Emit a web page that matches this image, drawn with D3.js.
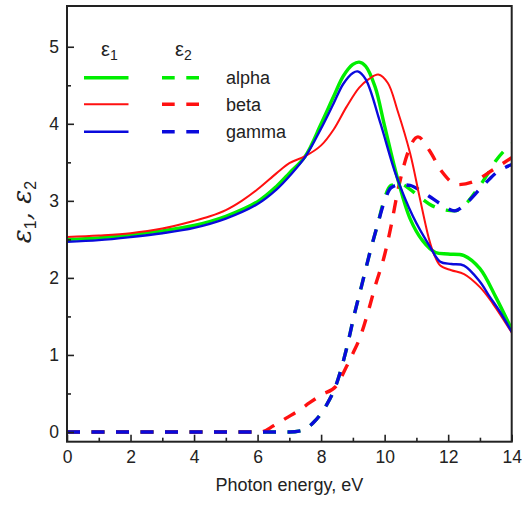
<!DOCTYPE html>
<html><head><meta charset="utf-8">
<script src="https://cdn.jsdelivr.net/npm/d3@7"></script>
<style>body{margin:0;background:#fff}svg{display:block}</style>
</head><body><svg id="c" width="522" height="510"></svg>
<script>
// ---- data ----
const seriesNames = ["alpha", "beta", "gamma"];
const seriesColors = ["#00ee00", "#ff1010", "#0a0adc"];

const e1X_alpha = [0,1,2,3,4,5,6,6.6,7,7.5,8,8.4,8.7,9.0,9.2,9.4,9.7,10.0,10.4,10.8,11.2,11.6,12.0,12.5,13.0,13.5,14];
const e1Y_alpha = [2.50,2.52,2.56,2.61,2.68,2.80,2.99,3.19,3.36,3.58,4.00,4.36,4.62,4.77,4.80,4.75,4.48,3.97,3.30,2.77,2.48,2.33,2.31,2.29,2.12,1.75,1.33];

const e1X_beta = [0,1,2,3,4,4.5,5,5.5,6,6.6,7,7.5,8,8.4,8.8,9.2,9.5,9.8,10.1,10.4,10.8,11.1,11.4,11.55,11.75,12.1,12.5,13.0,13.4,14];
const e1Y_beta = [2.53,2.55,2.58,2.64,2.74,2.80,2.88,3.00,3.15,3.36,3.49,3.58,3.72,3.93,4.22,4.47,4.58,4.64,4.53,4.18,3.62,3.05,2.50,2.31,2.16,2.10,2.05,1.88,1.67,1.29];

const e1X_gamma = [0,1,2,3,4,5,6,6.6,7,7.5,8,8.4,8.7,9.0,9.15,9.4,9.85,10.37,10.89,11.42,11.75,12.1,12.5,13.0,13.3,13.6,14];
const e1Y_gamma = [2.47,2.49,2.53,2.58,2.65,2.77,2.96,3.15,3.32,3.57,3.94,4.27,4.52,4.66,4.68,4.58,4.03,3.32,2.80,2.41,2.21,2.18,2.16,1.95,1.76,1.58,1.30];

const e2X_alpha = [0,7.0,7.4,7.75,8.17,8.48,8.8,9.06,9.27,9.53,9.79,10.0,10.2,10.5,10.8,11.1,11.4,11.8,12.2,12.6,12.9,13.2,13.5,14];
const e2Y_alpha = [0,0,0.02,0.12,0.35,0.62,1.08,1.55,1.89,2.32,2.71,3.04,3.20,3.22,3.15,3.05,2.96,2.89,2.87,2.98,3.14,3.32,3.52,3.74];

const e2X_beta = [0,6.1,6.5,6.9,7.3,7.64,8.0,8.48,8.8,9.0,9.2,9.5,9.7,10.0,10.2,10.4,10.6,10.8,11.05,11.4,11.8,12.3,12.8,13.4,14];
const e2Y_beta = [0,0,0.08,0.18,0.28,0.38,0.48,0.60,0.85,1.02,1.20,1.59,1.89,2.30,2.67,3.10,3.45,3.70,3.83,3.66,3.38,3.21,3.25,3.40,3.56];

const e2X_gamma = [0,7.0,7.4,7.75,8.17,8.48,8.8,9.06,9.27,9.53,9.79,10.0,10.2,10.5,10.8,11.1,11.4,11.8,12.2,12.6,12.9,13.2,13.5,14];
const e2Y_gamma = [0,0,0.02,0.12,0.35,0.62,1.08,1.55,1.89,2.32,2.71,3.00,3.17,3.21,3.20,3.14,3.06,2.95,2.87,2.98,3.11,3.24,3.36,3.47];

const xTicks = [0,2,4,6,8,10,12,14];
const xMinorTicks = [1,3,5,7,9,11,13];
const yTicks = [0,1,2,3,4,5];
const yMinorTicks = [0.5,1.5,2.5,3.5,4.5];

// ---- chart ----
const svg = d3.select("#c");
const L = 67, R = 511.7, T = 6, B = 441.7;
const x = d3.scaleLinear().domain([0,14]).range([L,R]);
const y = d3.scaleLinear().domain([-0.126,5.529]).range([B,T]);

const font = "'Liberation Sans', Arial, sans-serif";
const ink = "#222";

const e1 = [[e1X_alpha,e1Y_alpha],[e1X_beta,e1Y_beta],[e1X_gamma,e1Y_gamma]];
const e2 = [[e2X_alpha,e2Y_alpha],[e2X_beta,e2Y_beta],[e2X_gamma,e2Y_gamma]];
const e1Widths = [3.4, 2.0, 2.4];

const line1 = d3.line().x(d => x(d[0])).y(d => y(d[1])).curve(d3.curveCatmullRom.alpha(0.5));
const line2 = d3.line().x(d => x(d[0])).y(d => y(d[1])).curve(d3.curveMonotoneX);
svg.append("clipPath").attr("id","pc").append("rect")
  .attr("x",L).attr("y",T).attr("width",R-L).attr("height",B-T);
const plot = svg.append("g").attr("clip-path","url(#pc)");

const order = [0,1,2];
order.forEach(i => {
  const pts = e2[i][0].map((v,k) => [v, e2[i][1][k]]);
  plot.append("path").attr("d", line2(pts)).attr("fill","none")
    .attr("stroke", seriesColors[i]).attr("stroke-width",3.4)
    .attr("stroke-dasharray","13,11.5");
});
order.forEach(i => {
  const pts = e1[i][0].map((v,k) => [v, e1[i][1][k]]);
  plot.append("path").attr("d", line1(pts)).attr("fill","none")
    .attr("stroke", seriesColors[i]).attr("stroke-width",e1Widths[i]);
});

// axes
svg.append("g").attr("transform",`translate(0,${B})`)
  .call(d3.axisBottom(x).tickValues(xTicks).tickSize(-7).tickPadding(9).tickFormat(d3.format("d")));
svg.append("g").attr("transform",`translate(0,${B})`)
  .call(d3.axisBottom(x).tickValues(xMinorTicks).tickSize(-4).tickFormat(""));
svg.append("g").attr("transform",`translate(${L},0)`)
  .call(d3.axisLeft(y).tickValues(yTicks).tickSize(-7).tickPadding(8).tickFormat(d3.format("d")));
svg.append("g").attr("transform",`translate(${L},0)`)
  .call(d3.axisLeft(y).tickValues(yMinorTicks).tickSize(-4).tickFormat(""));
svg.selectAll(".domain").remove();
svg.selectAll(".tick line").attr("stroke",ink).attr("stroke-width",1.6);
svg.selectAll(".tick text").attr("fill",ink).style("font-family",font).style("font-size","17.5px");

svg.append("rect").attr("x",L).attr("y",T).attr("width",R-L).attr("height",B-T)
  .attr("fill","none").attr("stroke",ink).attr("stroke-width",2);

// axis titles
svg.append("text").attr("x",(L+R)/2).attr("y",491).attr("text-anchor","middle")
  .style("font-family",font).style("font-size","18px").attr("fill",ink).text("Photon energy, eV");

const yl = svg.append("text").attr("transform","translate(31,212) rotate(-90)")
  .attr("text-anchor","middle").attr("fill",ink)
  .style("font-family","'DejaVu Serif', serif").style("font-style","italic").style("font-size","26px");
yl.append("tspan").text("ε");
yl.append("tspan").attr("dy",5).style("font-size","16px").style("font-family",font).style("font-style","normal").text("1");
yl.append("tspan").attr("dy",-5).text(", ");
yl.append("tspan").text("ε");
yl.append("tspan").attr("dy",5).style("font-size","16px").style("font-family",font).style("font-style","normal").text("2");

// legend
const lg = svg.append("g");
const rowsY = [77.7, 104.3, 131.7];
const hdr = [["1",101],["2",175]];
hdr.forEach(h => {
  const t = lg.append("text").attr("x",h[1]).attr("y",56).attr("fill",ink)
    .style("font-family",font).style("font-size","20px");
  t.append("tspan").text("ε");
  t.append("tspan").attr("dy",4).style("font-size","14px").text(h[0]);
});
seriesNames.forEach((n,i) => {
  lg.append("line").attr("x1",84).attr("x2",128.5).attr("y1",rowsY[i]).attr("y2",rowsY[i])
    .attr("stroke",seriesColors[i]).attr("stroke-width",e1Widths[i]);
  lg.append("line").attr("x1",162).attr("x2",200).attr("y1",rowsY[i]).attr("y2",rowsY[i])
    .attr("stroke",seriesColors[i]).attr("stroke-width",3.4).attr("stroke-dasharray","12.7,11.6");
  lg.append("text").attr("x",226).attr("y",rowsY[i]+6.5).attr("fill",ink)
    .style("font-family",font).style("font-size","18px").text(n);
});
</script>
</body></html>
